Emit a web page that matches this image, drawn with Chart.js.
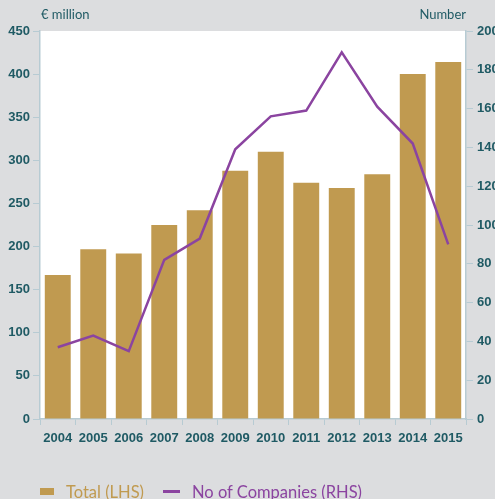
<!DOCTYPE html>
<html>
<head>
<meta charset="utf-8">
<script src="https://cdn.jsdelivr.net/npm/chart.js@4/dist/chart.umd.min.js"></script>
<style>
  html, body { margin: 0; padding: 0; background: #dcdddf; }
  #wrap { position: relative; width: 495px; height: 499px; overflow: hidden; }
  canvas { position: absolute; left: 0; top: 0; }
  .unit { position: absolute; top: 6px; font: 13px Lato, sans-serif; color: #1f5a64; }
  #legend { position: absolute; left: 40px; top: 480px; font: 16.5px Lato, sans-serif; white-space: nowrap; }
  #legend span { display: inline-block; vertical-align: middle; }
  .sw-bar  { width: 14px; height: 7px; background: #c09a50; margin-right: 12px; }
  .sw-line { width: 17px; height: 3px; background: #8b44a0; margin: 0 12px 0 19px; }
</style>
</head>
<body>
<div id="wrap">
  <canvas id="chart" width="495" height="499"></canvas>
  <div class="unit" style="left:41px">€ million</div>
  <div class="unit" style="right:29px">Number</div>
  <div id="legend">
    <span class="sw-bar"></span><span style="color:#c09a50">Total (LHS)</span><span class="sw-line"></span><span style="color:#8b44a0">No of Companies (RHS)</span>
  </div>
</div>
<script>
// ── Data ────────────────────────────────────────────────────────────────────
const YEARS     = ['2004', '2005', '2006', '2007', '2008', '2009', '2010', '2011', '2012', '2013', '2014', '2015'];
const TOTAL     = [167, 197, 192, 225, 242, 288, 310, 274, 268, 284, 400, 414];
const COMPANIES = [37, 43, 35, 82, 93, 139, 156, 159, 189, 161, 142, 90];

const TICK_COLOR = '#1f5a64';
const AXIS_COLOR = '#b7cbd3';

// white plot area
const plotBg = {
  id: 'plotBg',
  beforeDraw(chart) {
    const { ctx, chartArea: a } = chart;
    ctx.save();
    ctx.fillStyle = '#ffffff';
    ctx.fillRect(a.left, a.top, a.right - a.left, a.bottom - a.top);
    ctx.restore();
  },
};

const tickFont = { family: "'Liberation Sans Narrow', 'Liberation Sans', sans-serif", size: 13, weight: 'bold' };

new Chart(document.getElementById('chart'), {
  data: {
    labels: YEARS,
    datasets: [
      {
        type: 'line',
        label: 'No of Companies (RHS)',
        data: COMPANIES,
        yAxisID: 'y1',
        borderColor: '#8b44a0',
        borderWidth: 2.5,
        pointRadius: 0,
        tension: 0,
        order: 0,
      },
      {
        type: 'bar',
        label: 'Total (LHS)',
        data: TOTAL,
        yAxisID: 'y',
        backgroundColor: '#c09a50',
        barPercentage: 0.73,
        categoryPercentage: 1,
        order: 1,
      },
    ],
  },
  options: {
    responsive: false,
    animation: false,
    layout: { padding: { top: 31, left: 0, right: 0, bottom: 0 } },
    plugins: { legend: { display: false }, tooltip: { enabled: false } },
    scales: {
      x: {
        afterFit: s => { s.height = 80; },
        border: { color: AXIS_COLOR, width: 1.5 },
        grid: { drawOnChartArea: false, color: AXIS_COLOR, tickLength: 6, offset: true },
        ticks: { color: TICK_COLOR, font: tickFont, padding: 6, maxRotation: 0 },
      },
      y: {
        position: 'left',
        min: 0, max: 450,
        afterFit: s => { s.width = 40; },
        border: { color: AXIS_COLOR, width: 1.5 },
        grid: { drawOnChartArea: false, color: AXIS_COLOR, tickLength: 7 },
        ticks: { stepSize: 50, color: TICK_COLOR, font: tickFont, padding: 3 },
      },
      y1: {
        position: 'right',
        min: 0, max: 200,
        afterFit: s => { s.width = 29; },
        border: { color: AXIS_COLOR, width: 1.5 },
        grid: { drawOnChartArea: false, color: AXIS_COLOR, tickLength: 7 },
        ticks: { stepSize: 20, color: TICK_COLOR, font: tickFont, padding: 4 },
      },
    },
  },
  plugins: [plotBg],
});
</script>
</body>
</html>
